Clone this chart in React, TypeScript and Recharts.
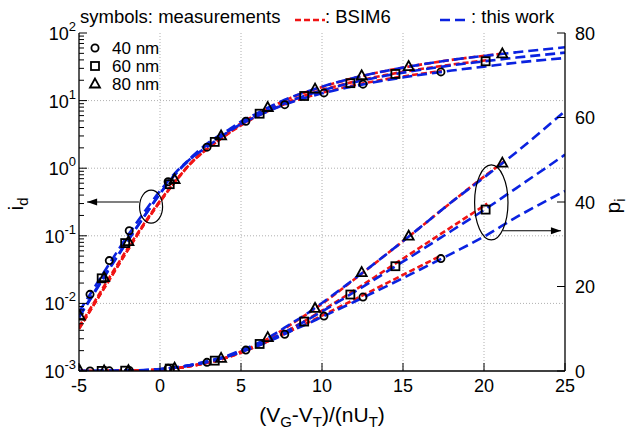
import React from 'react';
import {
  ComposedChart, Line, Scatter, XAxis, YAxis, CartesianGrid, Legend,
  ReferenceDot, ReferenceLine, Label,
} from 'recharts';

// model grid ("this work") - same curves are drawn as i_d (log, left) and p_i (linear, right)
const xGrid = [-5, -4, -3, -2, -1, 0, 1, 2, 3, 4, 5, 6, 7, 8, 9, 10, 12, 14, 16, 18, 20, 22, 25];
const work40 = [0.0075, 0.018, 0.043, 0.1, 0.22, 0.46, 0.88, 1.45, 2.15, 3.2, 4.5, 5.9, 7.5, 9.3, 11.0, 12.8, 16.4, 20.1, 23.9, 27.8, 31.8, 36.4, 42.6];
const work60 = [0.0062, 0.015, 0.036, 0.083, 0.19, 0.42, 0.84, 1.45, 2.3, 3.3, 4.5, 6.0, 7.8, 9.8, 11.9, 14.1, 18.7, 23.5, 28.3, 33.2, 38.1, 43.3, 51.2];
const work80 = [0.0063, 0.0155, 0.037, 0.085, 0.19, 0.42, 0.85, 1.5, 2.4, 3.4, 4.9, 6.5, 8.6, 11.0, 13.4, 16.1, 21.8, 27.7, 33.8, 40.0, 45.8, 51.8, 61.5];

// BSIM6
const bsimX40 = [-5, -4, -3, -2, -1, 0, 1, 2, 3, 4, 5, 6, 7, 8, 9, 10, 12, 14, 16, 17.4];
const bsim40 = [0.0045, 0.011, 0.027, 0.065, 0.15, 0.33, 0.67, 1.25, 2.0, 3.0, 4.4, 5.9, 7.6, 9.4, 11.2, 13.1, 16.9, 20.8, 24.7, 27.4];
const bsimX60 = [-5, -4, -3, -2, -1, 0, 1, 2, 3, 4, 5, 6, 7, 8, 9, 10, 12, 14, 16, 18, 20.2];
const bsim60 = [0.0042, 0.0103, 0.025, 0.061, 0.145, 0.32, 0.66, 1.25, 2.0, 3.0, 4.3, 5.9, 7.7, 9.8, 12.0, 14.3, 19.1, 24.1, 29.1, 34.1, 39.6];
const bsimX80 = [-5, -4, -3, -2, -1, 0, 1, 2, 3, 4, 5, 6, 7, 8, 9, 10, 12, 14, 16, 18, 20, 21.2];
const bsim80 = [0.0042, 0.0103, 0.025, 0.061, 0.145, 0.32, 0.66, 1.25, 2.05, 3.1, 4.6, 6.3, 8.4, 10.8, 13.3, 15.9, 21.7, 27.7, 33.8, 40.0, 46.0, 49.5];

// measurements
const measX40 = [-4.32, -3.13, -1.9, 0.5, 2.9, 5.3, 7.7, 10.12, 12.53, 17.34];
const meas40 = [0.0136, 0.043, 0.119, 0.63, 2.05, 4.95, 8.7, 13.0, 17.5, 26.6];
const measX60 = [-3.6, -2.15, 0.6, 3.38, 6.15, 8.9, 11.75, 14.53, 20.1];
const meas60 = [0.0235, 0.078, 0.58, 2.45, 6.4, 11.7, 18.1, 24.8, 38.2];
const measX80 = [-4.95, -3.45, -1.95, 0.9, 3.77, 6.65, 9.57, 12.45, 15.35, 21.13];
const meas80 = [0.0065, 0.024, 0.082, 0.68, 3.0, 7.9, 14.8, 23.3, 31.9, 49.2];

const xTicks = [-5, 0, 5, 10, 15, 20, 25];
const rightTicks = [0, 20, 40, 60, 80];
const decades = [-3, -2, -1, 0, 1];
const leftTicks: number[] = [];
decades.forEach(d => {
  for (let m = 1; m <= 9; m++) leftTicks.push(Number((m * Math.pow(10, d)).toPrecision(3)));
});
leftTicks.push(100);

const FONT = '"Liberation Sans", Arial, Helvetica, sans-serif';
const BLUE = '#0a22e0';
const RED = '#f01414';
const BLUE_DASH = '10 5';
const RED_DASH = '6 3';

const pts = (xs: number[], ys: number[]) => xs.map((x, i) => ({ x, y: ys[i] }));

const curves = [
  { key: 'b40', data: pts(bsimX40, bsim40), color: RED, dash: RED_DASH },
  { key: 'b60', data: pts(bsimX60, bsim60), color: RED, dash: RED_DASH },
  { key: 'b80', data: pts(bsimX80, bsim80), color: RED, dash: RED_DASH },
  { key: 'w40', data: pts(xGrid, work40), color: BLUE, dash: BLUE_DASH },
  { key: 'w60', data: pts(xGrid, work60), color: BLUE, dash: BLUE_DASH },
  { key: 'w80', data: pts(xGrid, work80), color: BLUE, dash: BLUE_DASH },
];

const Circ = (p: any) => <circle cx={p.cx} cy={p.cy} r={3.6} fill="none" stroke="#000" strokeWidth={1.8} />;
const Sq = (p: any) => <rect x={p.cx - 4} y={p.cy - 4} width={8} height={8} fill="none" stroke="#000" strokeWidth={1.8} />;
const Tri = (p: any) => (
  <polygon points={`${p.cx},${p.cy - 5.5} ${p.cx - 5},${p.cy + 3.5} ${p.cx + 5},${p.cy + 3.5}`} fill="none" stroke="#000" strokeWidth={1.8} />
);

const measurements = [
  { key: 'm40', data: pts(measX40, meas40), shape: Circ },
  { key: 'm60', data: pts(measX60, meas60), shape: Sq },
  { key: 'm80', data: pts(measX80, meas80), shape: Tri },
];

function LeftTick(props: any) {
  const { x, y, payload } = props;
  const lg = Math.log10(payload.value);
  const e = Math.round(lg);
  const major = Math.abs(lg - e) < 1e-6;
  return (
    <g>
      <line x1={x} x2={x + (major ? 8 : 5)} y1={y} y2={y} stroke="#000" strokeWidth={1} />
      {major && (
        <text x={x - 3} y={y + 7} textAnchor="end" fontSize={18} fontFamily={FONT} fill="#000">
          10<tspan fontSize={13} dy={-9}>{e}</tspan>
        </text>
      )}
    </g>
  );
}

function RightTick(props: any) {
  const { x, y, payload } = props;
  return (
    <g>
      <line x1={x} x2={x - 8} y1={y} y2={y} stroke="#000" strokeWidth={1} />
      <text x={x + 10} y={y + 6.5} textAnchor="start" fontSize={18} fontFamily={FONT} fill="#000">{payload.value}</text>
    </g>
  );
}

function BottomTick(props: any) {
  const { x, y, payload } = props;
  return (
    <g>
      <line x1={x} x2={x} y1={y} y2={y - 8} stroke="#000" strokeWidth={1} />
      <text x={x} y={y + 21} textAnchor="middle" fontSize={18} fontFamily={FONT} fill="#000">{payload.value}</text>
    </g>
  );
}

function XTitle(props: any) {
  const vb = props.viewBox || { x: 79, y: 371, width: 486, height: 60 };
  return (
    <text x={vb.x + vb.width / 2} y={vb.y + 51} textAnchor="middle" fontSize={21} fontFamily={FONT} fill="#000">
      (V<tspan fontSize={15} dy={5}>G</tspan><tspan dy={-5}>-V</tspan><tspan fontSize={15} dy={5}>T</tspan>
      <tspan dy={-5}>)/(nU</tspan><tspan fontSize={15} dy={5}>T</tspan><tspan dy={-5}>)</tspan>
    </text>
  );
}

function LeftTitle(props: any) {
  const vb = props.viewBox || { x: 0, y: 33, width: 79, height: 338 };
  const cx = vb.x + 23;
  const cy = vb.y + vb.height / 2 + 2;
  return (
    <text transform={`translate(${cx},${cy}) rotate(-90)`} textAnchor="middle" fontSize={21} fontFamily={FONT} fill="#000">
      i<tspan fontSize={15} dy={5}>d</tspan>
    </text>
  );
}

function RightTitle(props: any) {
  const vb = props.viewBox || { x: 565, y: 33, width: 64, height: 338 };
  const cx = vb.x + 55;
  const cy = vb.y + vb.height / 2 + 4;
  return (
    <text transform={`translate(${cx},${cy}) rotate(-90)`} textAnchor="middle" fontSize={21} fontFamily={FONT} fill="#000">
      p<tspan fontSize={15} dy={5}>i</tspan>
    </text>
  );
}

function HeaderLegend() {
  const t = { fontSize: 18.5, fontFamily: FONT, fill: '#000' };
  const s = { fontSize: 17, fontFamily: FONT, fill: '#000' };
  return (
    <svg width={629} height={100} style={{ position: 'absolute', left: 0, top: 0, overflow: 'visible' }}>
      <text x={80} y={23} {...t}>symbols: measurements</text>
      <line x1={295} x2={325} y1={20} y2={20} stroke={RED} strokeWidth={2.5} strokeDasharray={RED_DASH} />
      <text x={325} y={23} {...t}>: BSIM6</text>
      <line x1={440} x2={468} y1={20} y2={20} stroke={BLUE} strokeWidth={2.5} strokeDasharray={BLUE_DASH} />
      <text x={471} y={23} {...t}>: this work</text>
      <Circ cx={95} cy={48} />
      <text x={112} y={54} {...s}>40 nm</text>
      <Sq cx={95} cy={66} />
      <text x={112} y={72} {...s}>60 nm</text>
      <Tri cx={95} cy={84} />
      <text x={112} y={89.5} {...s}>80 nm</text>
    </svg>
  );
}

// annotation positions (data coordinates)
const idEllipse = { x: -0.55, y: 0.27 };
const idArrow = { from: -1.3, to: -4.5, y: 0.316 };
const piEllipse = { x: 20.45, y: 39.9 };
const piArrow = { from: 21.17, to: 24.75, y: 33.2 };

export default function App() {
  return (
    <div style={{ position: 'absolute', left: 0, top: 0, background: '#fff' }}>
      <ComposedChart width={629} height={431} margin={{ top: 33, right: 0, bottom: 0, left: 0 }} style={{ fontFamily: FONT }}>
        <CartesianGrid
          yAxisId="left"
          stroke="#b0b0b0"
          strokeDasharray="1 2"
          horizontalValues={[0.01, 0.1, 1, 10]}
          verticalValues={[0, 5, 10, 15, 20]}
        />
        <XAxis
          type="number"
          dataKey="x"
          domain={[-5, 25]}
          ticks={xTicks}
          interval={0}
          allowDataOverflow
          height={60}
          tickSize={0}
          tickMargin={0}
          tickLine={false}
          tick={<BottomTick />}
          axisLine={{ stroke: '#000', strokeWidth: 1.3 }}
          label={<Label content={<XTitle />} />}
        />
        <XAxis
          xAxisId="top"
          orientation="top"
          type="number"
          dataKey="x"
          domain={[-5, 25]}
          height={0}
          tick={false}
          tickLine={false}
          axisLine={{ stroke: '#000', strokeWidth: 1.3 }}
        />
        <YAxis
          yAxisId="left"
          scale="log"
          domain={[0.001, 100]}
          ticks={leftTicks}
          interval={0}
          allowDataOverflow
          width={79}
          tickSize={0}
          tickMargin={0}
          tickLine={false}
          tick={<LeftTick />}
          axisLine={{ stroke: '#000', strokeWidth: 1.3 }}
          label={<Label content={<LeftTitle />} />}
        />
        <YAxis
          yAxisId="right"
          orientation="right"
          domain={[0, 80]}
          ticks={rightTicks}
          interval={0}
          allowDataOverflow
          width={64}
          tickSize={0}
          tickMargin={0}
          tickLine={false}
          tick={<RightTick />}
          axisLine={{ stroke: '#000', strokeWidth: 1.3 }}
          label={<Label content={<RightTitle />} />}
        />
        <Legend verticalAlign="middle" align="center" layout="horizontal" wrapperStyle={{ left: 0, top: 0, width: 629, height: 100 }} content={<HeaderLegend />} />

        {curves.map(c => (
          <Line key={c.key + '-id'} yAxisId="left" data={c.data} dataKey="y" type="monotone" stroke={c.color}
            strokeWidth={2.6} strokeDasharray={c.dash} dot={false} activeDot={false} isAnimationActive={false} />
        ))}
        {curves.map(c => (
          <Line key={c.key + '-pi'} yAxisId="right" data={c.data} dataKey="y" type="monotone" stroke={c.color}
            strokeWidth={2.6} strokeDasharray={c.dash} dot={false} activeDot={false} isAnimationActive={false} />
        ))}
        {measurements.map(m => (
          <Scatter key={m.key + '-id'} yAxisId="left" data={m.data} dataKey="y" shape={m.shape} isAnimationActive={false} />
        ))}
        {measurements.map(m => (
          <Scatter key={m.key + '-pi'} yAxisId="right" data={m.data} dataKey="y" shape={m.shape} isAnimationActive={false} />
        ))}

        <ReferenceDot yAxisId="left" x={idEllipse.x} y={idEllipse.y}
          shape={(p: any) => <ellipse cx={p.cx} cy={p.cy} rx={11.5} ry={16.5} fill="none" stroke="#000" strokeWidth={1.2} />} />
        <ReferenceLine yAxisId="left" stroke="#000" strokeWidth={1.2}
          segment={[{ x: idArrow.from, y: idArrow.y }, { x: idArrow.to, y: idArrow.y }]} />
        <ReferenceDot yAxisId="left" x={idArrow.to} y={idArrow.y}
          shape={(p: any) => <path d={`M${p.cx},${p.cy} l10,-3.5 l0,7 z`} fill="#000" />} />

        <ReferenceDot yAxisId="right" x={piEllipse.x} y={piEllipse.y}
          shape={(p: any) => <ellipse cx={p.cx} cy={p.cy} rx={16.7} ry={37.5} fill="none" stroke="#000" strokeWidth={1.2} />} />
        <ReferenceLine yAxisId="right" stroke="#000" strokeWidth={1.2}
          segment={[{ x: piArrow.from, y: piArrow.y }, { x: piArrow.to, y: piArrow.y }]} />
        <ReferenceDot yAxisId="right" x={piArrow.to} y={piArrow.y}
          shape={(p: any) => <path d={`M${p.cx},${p.cy} l-10,-3.5 l0,7 z`} fill="#000" />} />
      </ComposedChart>
    </div>
  );
}
